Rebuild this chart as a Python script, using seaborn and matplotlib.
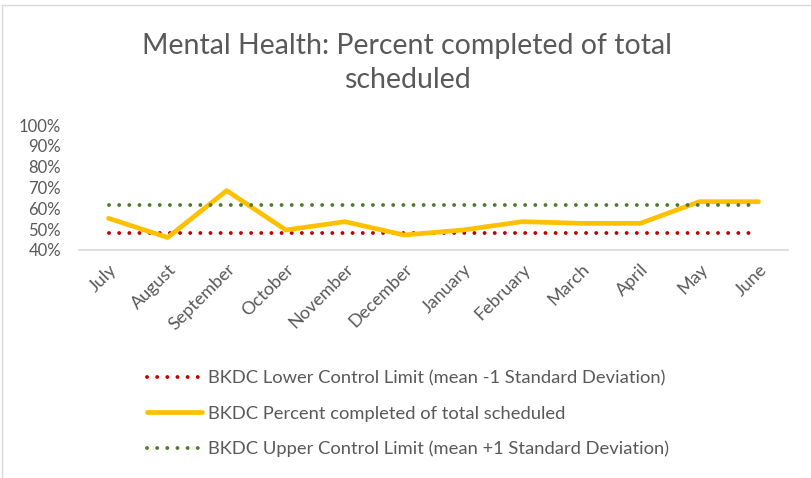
import matplotlib
matplotlib.use("Agg")
import matplotlib.pyplot as plt
import seaborn as sns
import pandas as pd
from matplotlib.lines import Line2D

months = ["July", "August", "September", "October", "November", "December",
          "January", "February", "March", "April", "May", "June"]
pct_completed = [0.552, 0.460, 0.685, 0.496, 0.536, 0.472,
                 0.496, 0.536, 0.528, 0.528, 0.632, 0.632]
lower_limit = [0.48] * 12
upper_limit = [0.615] * 12

lbl_lower = "BKDC Lower Control Limit (mean -1 Standard Deviation)"
lbl_pct = "BKDC Percent completed of total scheduled"
lbl_upper = "BKDC Upper Control Limit (mean +1 Standard Deviation)"

sns.set_theme(style="white")
plt.rcParams['font.family'] = ['Lato', 'DejaVu Sans']
TXT = "#595959"
RED = "#C00000"
ORANGE = "#FFC000"
GREEN = "#4E7B2F"

df = pd.DataFrame({"month": months, "pct": pct_completed,
                   "lower": lower_limit, "upper": upper_limit})
df["x"] = range(len(months))

fig = plt.figure(figsize=(8.12, 4.78), dpi=100)
ax = fig.add_axes([79/812, 1-250/478, (788-79)/812, 125/478])

DLW = 2.8
dot = (0, (0.01, 2.6))
sns.lineplot(data=df, x="x", y="lower", ax=ax, color=RED, lw=DLW,
             linestyle=dot, dash_capstyle="round")
sns.lineplot(data=df, x="x", y="pct", ax=ax, color=ORANGE, lw=3.4,
             solid_joinstyle="round", solid_capstyle="round")
sns.lineplot(data=df, x="x", y="upper", ax=ax, color=GREEN, lw=DLW,
             linestyle=dot, dash_capstyle="round")

ax.set_xlim(-0.5, 11.5)
ax.set_ylim(0.4, 1.0)
ax.set_yticks([0.4, 0.5, 0.6, 0.7, 0.8, 0.9, 1.0])
ax.set_yticklabels(["40%", "50%", "60%", "70%", "80%", "90%", "100%"])
ax.set_xticks(range(len(months)))
ax.set_xticklabels(months, rotation=45, ha="right", rotation_mode="anchor")
ax.set_xlabel("")
ax.set_ylabel("")
ax.tick_params(axis="y", length=0, pad=13, labelsize=12, colors=TXT)
ax.tick_params(axis="x", length=0, pad=8, labelsize=13, colors=TXT)
for s in ["top", "right", "left"]:
    ax.spines[s].set_visible(False)
ax.spines["bottom"].set_color("#D9D9D9")
ax.spines["bottom"].set_linewidth(1.2)

fig.text(407/812, 1-63/478, "Mental Health: Percent completed of total\nscheduled",
         ha="center", va="center", fontsize=20.5, color=TXT, linespacing=1.35)

handles = [
    Line2D([], [], color=RED, lw=DLW, linestyle=dot, dash_capstyle="round"),
    Line2D([], [], color=ORANGE, lw=3.4, solid_capstyle="round"),
    Line2D([], [], color=GREEN, lw=DLW, linestyle=dot, dash_capstyle="round"),
]
leg = fig.legend(handles, [lbl_lower, lbl_pct, lbl_upper],
                 loc="upper left", bbox_to_anchor=(138/812, 1-361/478),
                 frameon=False, fontsize=13.2, handlelength=3.0,
                 handletextpad=0.3, labelspacing=1.05, borderpad=0)
for t in leg.get_texts():
    t.set_color(TXT)

# chart border (top and left visible)
fig.add_artist(Line2D([2.5/812, 2.5/812], [0, 1-5/478], transform=fig.transFigure,
                      color="#D9D9D9", lw=1))
fig.add_artist(Line2D([2.5/812, 1], [1-5/478, 1-5/478], transform=fig.transFigure,
                      color="#D9D9D9", lw=1))

fig.savefig("out.png", dpi=100)
